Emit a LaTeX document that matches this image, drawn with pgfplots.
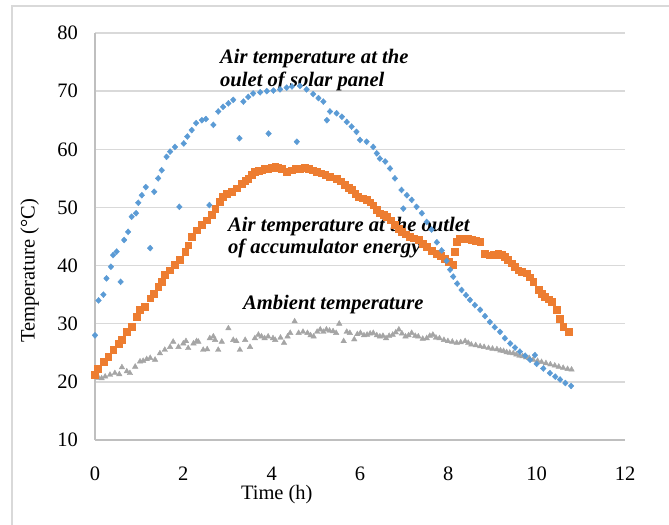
\documentclass[border=0pt]{standalone}
\usepackage{fontspec}
\setmainfont{Liberation Serif}
\usepackage{pgfplots}
\pgfplotsset{compat=1.18}

\definecolor{panelblue}{HTML}{5B9BD5}
\definecolor{accorange}{HTML}{ED7D31}
\definecolor{ambgray}{HTML}{A5A5A5}
\definecolor{gridgray}{HTML}{D9D9D9}
\definecolor{axisgray}{HTML}{BFBFBF}

\begin{document}
\begin{tikzpicture}
\useasboundingbox (0,0) rectangle (669bp,525bp);
\draw[gridgray, line width=1.5bp] (12bp,0) -- (12bp,519bp) -- (669bp,519bp);
\begin{axis}[
    at={(95bp,85bp)}, anchor=south west,
    scale only axis, width=530bp, height=407bp,
    xmin=0, xmax=12, ymin=10, ymax=80,
    xtick={0,2,...,12}, ytick={10,20,...,80},
    axis x line*=bottom, axis y line*=left,
    axis line style={draw=axisgray, line width=1.3bp, -},
    ymajorgrids, grid style={draw=gridgray, line width=1.3bp},
    major tick length=0pt,
    /pgf/number format/assume math mode=true,
    tick label style={font=\fontsize{20.5bp}{24bp}\selectfont},
    yticklabel style={inner sep=0pt, xshift=-17bp},
    xticklabel style={inner sep=0pt, yshift=-27bp},
    xlabel={Time (h)},
    ylabel={Temperature (\textdegree C)},
    label style={font=\fontsize{20.5bp}{24bp}\selectfont},
    xlabel style={at={(rel axis cs:0.343,-0.135)}, anchor=center},
    ylabel style={at={(rel axis cs:-0.123,0.416)}, anchor=center},
    clip=false,
]
% ambient temperature
\addplot[only marks, mark=triangle*, mark size=3.2bp, color=ambgray] coordinates {
(0.00,20.9) (0.08,20.7) (0.15,20.6) (0.23,20.9) (0.34,21.2) (0.45,21.5)
(0.55,21.3) (0.61,22.5) (0.72,21.8) (0.79,21.5) (0.91,22.6) (1.02,23.5)
(1.09,23.6) (1.17,23.9) (1.25,24.1) (1.36,23.8) (1.47,24.9) (1.58,25.5)
(1.70,26.0) (1.77,26.9) (1.89,26.0) (2.00,26.6) (2.06,27.0) (2.11,25.8)
(2.23,26.6) (2.30,27.0) (2.34,26.9) (2.45,25.5) (2.54,25.6) (2.60,27.5)
(2.68,27.8) (2.72,27.2) (2.79,25.5) (2.87,26.9) (3.02,29.2) (3.13,27.2)
(3.20,27.0) (3.28,25.5) (3.40,27.2) (3.51,26.0) (3.62,27.5) (3.70,28.1)
(3.77,27.8) (3.84,27.5) (3.92,27.8) (4.03,27.5) (4.08,27.2) (4.20,27.6)
(4.28,26.7) (4.36,27.8) (4.42,28.4) (4.52,30.4) (4.61,28.4) (4.71,28.6)
(4.81,28.4) (4.88,28.0) (4.95,27.8) (5.03,28.6) (5.10,29.0) (5.17,28.6)
(5.24,29.0) (5.31,28.8) (5.39,28.7) (5.46,28.4) (5.53,30.0) (5.63,27.0)
(5.70,28.6) (5.77,28.4) (5.87,27.3) (5.94,28.2) (6.01,28.4) (6.09,28.0)
(6.16,28.1) (6.23,28.3) (6.30,28.4) (6.38,28.0) (6.45,27.8) (6.52,27.9)
(6.59,27.5) (6.66,27.9) (6.74,28.1) (6.81,28.5) (6.88,29.0) (6.95,28.3)
(7.03,27.8) (7.10,28.0) (7.17,28.4) (7.25,27.9) (7.32,27.8) (7.42,27.4)
(7.51,27.5) (7.58,27.9) (7.65,28.1) (7.72,27.6) (7.80,27.5) (7.90,27.2)
(7.99,27.0) (8.09,26.9) (8.19,26.7) (8.28,26.8) (8.38,27.0) (8.45,26.7)
(8.52,26.4) (8.62,26.3) (8.72,26.1) (8.81,26.0) (8.91,25.8) (9.00,25.7)
(9.10,25.6) (9.18,25.4) (9.25,25.3) (9.32,25.1) (9.39,25.0) (9.47,24.9)
(9.54,24.7) (9.61,24.5) (9.68,24.4) (9.76,24.2) (9.83,24.1) (9.92,23.8)
(10.02,23.6) (10.11,23.4) (10.21,23.2) (10.31,23.0) (10.41,22.8) (10.50,22.6)
(10.60,22.4) (10.70,22.2) (10.79,22.1)
};
% accumulator outlet
\addplot[only marks, mark=square*, mark size=3.4bp, color=accorange] coordinates {
(0.00,21.2) (0.07,22.3) (0.19,23.5) (0.30,24.3) (0.41,25.5) (0.53,26.6)
(0.60,27.2) (0.72,28.6) (0.83,29.5) (0.94,31.2) (1.02,32.4) (1.13,32.9)
(1.25,34.4) (1.32,35.2) (1.43,36.4) (1.51,37.2) (1.58,38.4) (1.70,39.2)
(1.81,40.1) (1.92,41.0) (2.04,42.4) (2.11,43.5) (2.19,45.0) (2.30,46.1)
(2.42,47.0) (2.53,47.8) (2.64,48.7) (2.72,49.8) (2.83,51.0) (2.90,51.8)
(2.98,52.4) (3.09,52.7) (3.21,53.3) (3.32,54.1) (3.40,54.6) (3.47,55.0)
(3.55,55.6) (3.62,56.1) (3.70,56.3) (3.77,56.4) (3.85,56.6) (3.92,56.7)
(4.00,56.9) (4.08,57.0) (4.15,56.9) (4.23,56.7) (4.34,56.1) (4.45,56.4)
(4.55,56.6) (4.64,56.7) (4.74,56.8) (4.83,56.7) (4.93,56.4) (5.02,56.1)
(5.12,55.9) (5.21,55.6) (5.32,55.3) (5.47,55.0) (5.56,54.5) (5.66,53.9)
(5.74,53.4) (5.81,53.0) (5.89,52.4) (5.96,51.9) (6.06,51.6) (6.15,51.3)
(6.23,50.9) (6.30,50.4) (6.38,49.6) (6.45,49.0) (6.53,48.7) (6.60,48.4)
(6.70,47.8) (6.79,47.0) (6.87,46.3) (6.94,45.8) (7.03,45.4) (7.13,45.0)
(7.22,44.7) (7.32,44.4) (7.42,43.8) (7.51,43.2) (7.62,42.6) (7.74,42.1)
(7.83,41.7) (7.92,41.2) (8.01,40.6) (8.11,40.1) (8.15,42.4) (8.19,44.1)
(8.26,44.6) (8.34,44.7) (8.43,44.6) (8.53,44.4) (8.62,44.3) (8.72,44.1)
(8.83,42.1) (8.94,41.8) (9.03,41.9) (9.13,42.1) (9.20,41.9) (9.28,41.5)
(9.35,41.0) (9.43,40.4) (9.50,39.8) (9.58,39.2) (9.67,39.0) (9.77,38.7)
(9.85,38.0) (9.92,37.2) (10.04,35.8) (10.11,35.2) (10.19,34.6) (10.27,34.2)
(10.34,33.8) (10.45,32.4) (10.53,30.9) (10.60,29.5) (10.72,28.6)
};
% solar panel outlet
\addplot[only marks, mark=diamond*, mark size=3bp, mark options={xscale=1.25}, color=panelblue] coordinates {
(0.00,28.0) (0.08,34.0) (0.19,35.0) (0.26,37.8) (0.36,39.8) (0.41,41.8)
(0.49,42.4) (0.58,37.2) (0.66,44.4) (0.75,45.8) (0.83,48.4) (0.93,49.0)
(0.98,50.8) (1.06,52.1) (1.15,53.5) (1.25,43.0) (1.34,52.7) (1.43,55.0)
(1.51,56.4) (1.62,58.7) (1.70,59.6) (1.81,60.4) (1.91,50.1) (2.01,61.0)
(2.09,62.2) (2.19,63.3) (2.29,64.5) (2.42,65.0) (2.51,65.2) (2.59,50.4)
(2.68,64.2) (2.79,66.5) (2.90,67.3) (3.02,67.9) (3.13,68.5) (3.27,61.9)
(3.36,68.2) (3.47,69.0) (3.58,69.6) (3.74,69.8) (3.89,70.0) (3.93,62.7)
(4.04,70.1) (4.19,70.3) (4.34,70.6) (4.46,70.8) (4.57,61.3) (4.64,70.9)
(4.79,70.3) (4.94,69.5) (5.06,68.8) (5.17,68.2) (5.25,65.0) (5.32,66.5)
(5.47,66.2) (5.59,65.6) (5.70,64.7) (5.81,63.9) (5.92,63.0) (6.00,61.6)
(6.15,61.3) (6.30,60.4) (6.38,59.3) (6.45,58.4) (6.57,57.9) (6.68,56.7)
(6.79,55.0) (6.94,53.0) (6.98,49.8) (7.06,52.1) (7.17,51.3) (7.28,50.1)
(7.40,49.0) (7.51,47.5) (7.62,46.2) (7.74,44.0) (7.85,42.6) (7.96,40.8)
(8.04,39.3) (8.11,38.1) (8.20,36.9) (8.30,35.8) (8.40,34.9) (8.49,34.1)
(8.60,33.2) (8.72,32.4) (8.83,31.3) (8.94,30.3) (9.05,29.4) (9.17,28.6)
(9.28,27.5) (9.40,26.6) (9.51,25.9) (9.62,25.2) (9.74,24.5) (9.85,23.8)
(9.96,24.6) (10.00,23.1) (10.15,22.3) (10.30,21.5) (10.42,20.9) (10.53,20.4)
(10.65,19.8) (10.78,19.3)
};
\begin{scope}[every node/.style={anchor=base west, inner sep=0pt,
    font=\bfseries\itshape\fontsize{20.6bp}{24bp}\selectfont}]
\node at (axis cs:2.83,74.67) {Air temperature at the};
\node at (axis cs:2.83,70.88) {oulet of solar panel};
\node at (axis cs:3.01,45.83) {Air temperature at the outlet};
\node at (axis cs:3.01,42.16) {of accumulator energy};
\node at (axis cs:3.35,32.36) {Ambient temperature};
\end{scope}
\end{axis}
\end{tikzpicture}
\end{document}
